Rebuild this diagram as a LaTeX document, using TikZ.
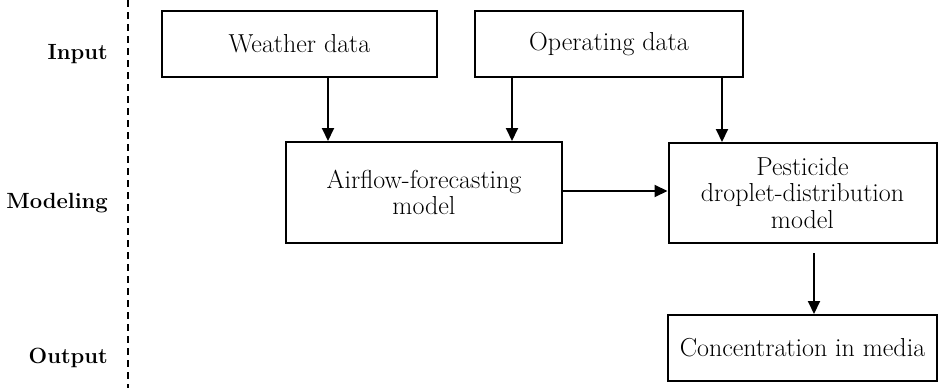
\documentclass[tikz,border=0pt]{standalone}
\usetikzlibrary{arrows.meta}
\begin{document}
\begin{tikzpicture}[x=1pt,y=-1pt,
  box/.style={draw,line width=2pt,align=center,inner sep=0pt,font=\fontsize{26}{26.5}\selectfont},
  arr/.style={line width=2pt,-{Triangle[length=13pt,width=12pt]}},
  lbl/.style={anchor=base east,font=\fontsize{22}{24}\selectfont\bfseries,inner sep=0pt}]
\useasboundingbox (0,0) rectangle (938,388);
\draw[line width=1.2pt,dash pattern=on 7pt off 5pt] (128,0) -- (128,388);
\node[lbl] (in) at (108,59) {Input};
\node[lbl] (mod) at (108,208) {Modeling};
\node[lbl] (out) at (108,363) {Output};
\node[box,minimum width=275pt,minimum height=66pt] (weather) at (299.5,44) {Weather data};
\node[box,minimum width=268pt,minimum height=66pt] (oper) at (609,44) {Operating data};
\node[box,minimum width=276pt,minimum height=101pt] (air) at (424,192.5) {Airflow-forecasting\\model};
\node[box,minimum width=268pt,minimum height=100pt] (pest) at (802.5,193) {Pesticide\\droplet-distribution\\model};
\node[box,minimum width=269pt,minimum height=66pt] (conc) at (802.5,348) {Concentration in media};
\coordinate (c1) at (328,0);
\coordinate (c2) at (512,0);
\coordinate (c3) at (722,0);
\coordinate (c4) at (814,0);
\coordinate (c5) at (0,191);
\draw[arr] (weather.south -| c1) -- (air.north -| c1);
\draw[arr] (oper.south -| c2) -- (air.north -| c2);
\draw[arr] (oper.south -| c3) -- (pest.north -| c3);
\draw[arr] (air.east |- c5) -- (pest.west |- c5);
\draw[arr] ([yshift=-9pt]pest.south -| c4) -- (conc.north -| c4);
\end{tikzpicture}
\end{document}
